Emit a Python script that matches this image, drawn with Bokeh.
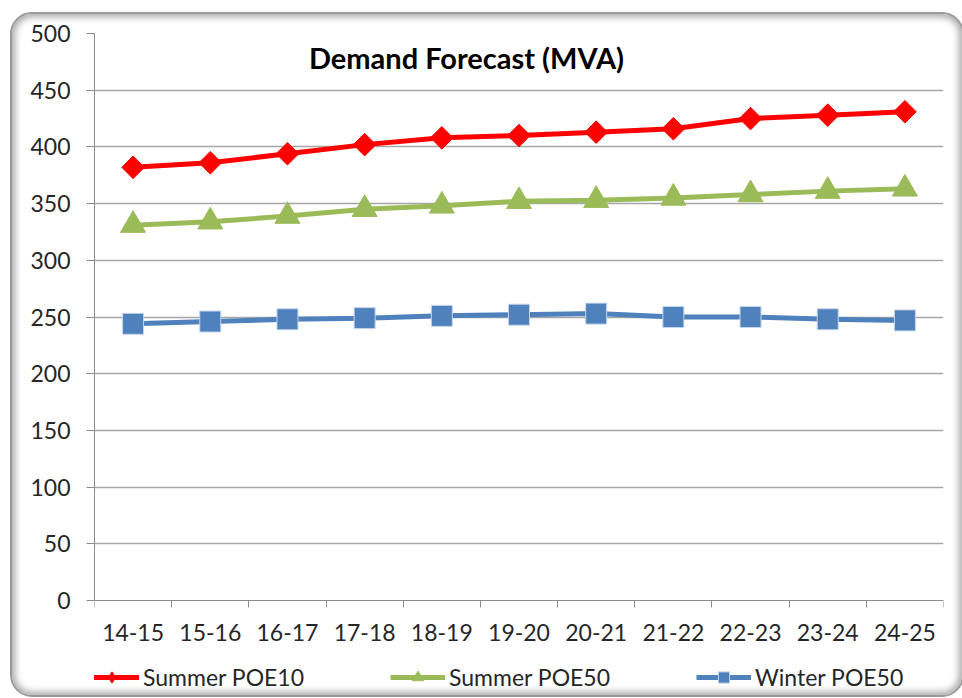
from bokeh.plotting import figure
from bokeh.models import (Range1d, FixedTicker, CustomJSTickFormatter, Legend, LegendItem,
                          Label)
from bokeh.embed import file_html
from bokeh.resources import INLINE
import math

categories = ["14-15", "15-16", "16-17", "17-18", "18-19", "19-20",
              "20-21", "21-22", "22-23", "23-24", "24-25"]
summer_poe10 = [382, 386, 394, 402, 408, 410, 413, 416, 425, 428, 431]
summer_poe50 = [331, 334, 339, 345, 348, 352, 353, 355, 358, 361, 363]
winter_poe50 = [244, 246, 248, 249, 251, 252, 253, 250, 250, 248, 247]
y_ticks = list(range(0, 501, 50))

FONT = "Lato"
xs = [i + 0.5 for i in range(len(categories))]

# frame extends below zero to leave room for category labels and legend
PLOT_PX = 567
EXTRA_PX = 95
y_min = -500 * EXTRA_PX / PLOT_PX

p = figure(frame_width=849, frame_height=PLOT_PX + EXTRA_PX,
           x_range=Range1d(0, len(categories)), y_range=Range1d(y_min, 500),
           output_backend="svg", toolbar_location=None,
           min_border_left=82, min_border_top=19, min_border_right=19, min_border_bottom=0)
p.margin = (12, 0, 0, 10)
p.styles = {"border": "2px solid #9a9a9a", "border-radius": "22px",
            "box-shadow": "inset 0 0 7px 3px #a8a8a8", "overflow": "hidden",
            "background": "#ffffff"}
p.border_fill_alpha = 0
p.background_fill_alpha = 0
p.outline_line_color = None

# axes
p.yaxis.ticker = FixedTicker(ticks=y_ticks)
p.yaxis.bounds = (0, 500)
p.yaxis.axis_line_color = "#8c8c8c"
p.yaxis.major_tick_line_color = "#8c8c8c"
p.yaxis.major_tick_out = 8
p.yaxis.major_tick_in = 0
p.yaxis.minor_tick_line_color = None
p.yaxis.major_label_text_font = FONT
p.yaxis.major_label_text_font_size = "23px"
p.yaxis.major_label_text_color = "#262626"
p.yaxis.major_label_standoff = 16

p.xaxis.fixed_location = 0
p.xaxis.ticker = FixedTicker(ticks=xs, minor_ticks=list(range(len(categories) + 1)))
p.xaxis.formatter = CustomJSTickFormatter(args=dict(labels=categories),
                                          code="return labels[Math.floor(tick)] || '';")
p.xaxis.axis_line_color = "#8c8c8c"
p.xaxis.major_tick_line_color = None
p.xaxis.major_tick_out = 0
p.xaxis.major_tick_in = 0
p.xaxis.minor_tick_line_color = "#8c8c8c"
p.xaxis.minor_tick_out = 7
p.xaxis.minor_tick_in = 0
p.xaxis.major_label_text_font = FONT
p.xaxis.major_label_text_font_size = "23px"
p.xaxis.major_label_text_color = "#262626"
p.xaxis.major_label_standoff = 16

p.xgrid.grid_line_color = None
p.ygrid.ticker = FixedTicker(ticks=y_ticks[1:])
p.ygrid.grid_line_color = "#a6a6a6"
p.ygrid.grid_line_width = 1.5

# series
r1l = p.line(xs, summer_poe10, line_color="#ff0000", line_width=5)
r1m = p.scatter(xs, summer_poe10, marker="square", angle=math.pi / 4, size=16,
                fill_color="#ff0000", line_color="#ff0000")
# legend proxy: a diamond drawn under the first (larger) rotated-square marker
r1leg = p.scatter(xs[:1], summer_poe10[:1], marker="diamond", size=16,
                  fill_color="#ff0000", line_color="#ff0000", level="underlay")
r2l = p.line(xs, summer_poe50, line_color="#9bbb59", line_width=5)
r2m = p.scatter(xs, summer_poe50, marker="triangle", size=25,
                fill_color="#9bbb59", line_color="#9bbb59")
r3l = p.line(xs, winter_poe50, line_color="#4f81bd", line_width=5)
r3m = p.scatter(xs, winter_poe50, marker="square", size=21,
                fill_color="#4f81bd", line_color="#c6d5ea", line_width=1)

legend = Legend(items=[
    LegendItem(label="Summer POE10", renderers=[r1l, r1leg]),
    LegendItem(label="Summer POE50", renderers=[r2l, r2m]),
    LegendItem(label="Winter POE50", renderers=[r3l, r3m]),
], orientation="horizontal", location=(-10, 4))
legend.label_text_font = FONT
legend.label_text_font_size = "23px"
legend.label_text_color = "#262626"
legend.glyph_width = 55
legend.glyph_height = 28
legend.label_standoff = 4
legend.spacing = 86
legend.margin = 0
legend.padding = 4
legend.border_line_color = None
legend.background_fill_alpha = 0
p.add_layout(legend, "center")

title = Label(x=4.82, y=479, text="Demand Forecast (MVA)", text_align="center",
              text_baseline="alphabetic", text_font=FONT, text_font_size="29px",
              text_font_style="bold", text_color="#000000")
p.add_layout(title)

open("out.html", "w").write(file_html(p, INLINE))
